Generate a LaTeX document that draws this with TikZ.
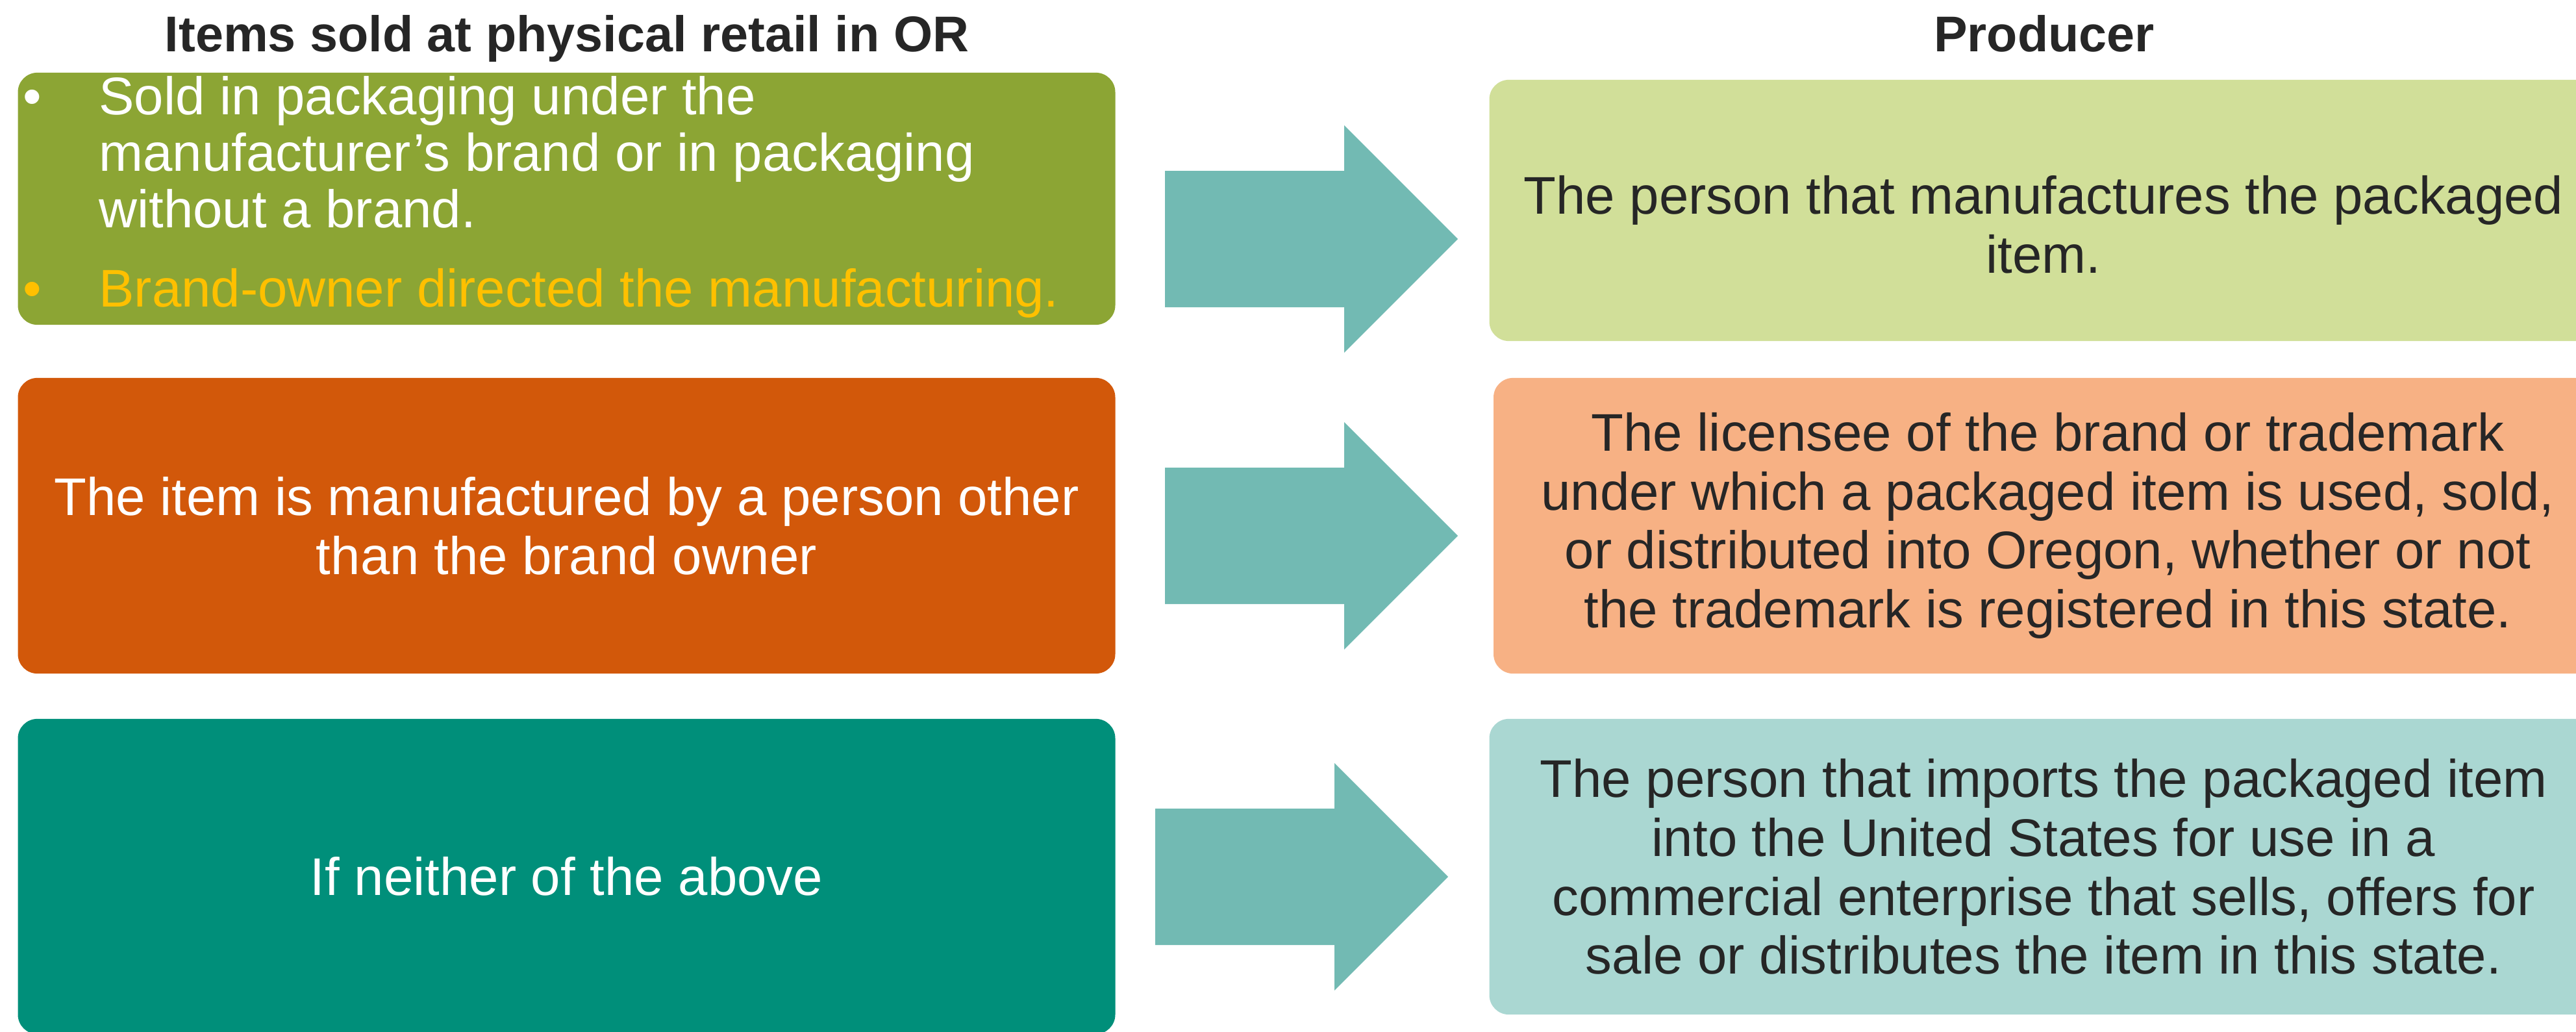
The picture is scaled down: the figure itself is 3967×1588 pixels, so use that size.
\documentclass[tikz,border=0pt]{standalone}
\usepackage{fontspec}
\setmainfont{Liberation Sans}
\usepackage{tikz}
\usetikzlibrary{positioning}

\definecolor{boxolive}{RGB}{140,165,52}
\definecolor{boxorange}{RGB}{210,88,10}
\definecolor{boxteal}{RGB}{0,143,122}
\definecolor{paleolive}{RGB}{209,223,153}
\definecolor{paleorange}{RGB}{247,177,132}
\definecolor{paleteal}{RGB}{170,215,210}
\definecolor{arrowteal}{RGB}{114,186,179}
\definecolor{bulletgold}{RGB}{255,192,0}
\definecolor{inkgray}{RGB}{38,38,38}

\newcommand{\bodyfont}{\fontsize{23.2}{25.8}\selectfont}
\newcommand{\listfont}{\fontsize{23.2}{24.6}\selectfont}
\newcommand{\headfont}{\fontsize{22}{25}\selectfont\bfseries}

\begin{document}
\begin{tikzpicture}[x=0.01cm,y=-0.01cm,
  box/.style={rectangle,rounded corners=0.3cm,inner sep=0pt,align=center,font=\bodyfont},
  lbox/.style={box,text=white,minimum width=16.89cm},
  rbox/.style={box,text=inkgray,minimum width=17.06cm},
  head/.style={font=\headfont,text=inkgray,anchor=base},
  bul/.style={font=\listfont,anchor=base},
  arrowfill/.style={fill=arrowteal}]

\clip (0,0) rectangle (3967,1588);

% headings
\node[head] (hleft) at (873,80) {Items sold at physical retail in OR};
\node[head] (hright) at (3148,80) {Producer};

% left column
\node[lbox,fill=boxolive,minimum height=3.88cm] (L1) at (872.5,306) {};
\node[lbox,fill=boxorange,minimum height=4.55cm] (L2) at (872.5,809.5) {The item is manufactured by a person other\\than the brand owner};
\node[lbox,fill=boxteal,minimum height=4.85cm] (L3) at (872.5,1349.5) {If neither of the above};

% bullet points in the first box (base = last line)
\node[bul,text=white] (d1) at (50,177) {•};
\node[bul,anchor=base west,align=left,text=white] (t1) at (140,350)
  {Sold in packaging under the\\manufacturer’s brand or in packaging\\without a brand.};
\node[bul,text=bulletgold] (d2) at (50,472) {•};
\node[bul,anchor=base west,text=bulletgold] (t2) at (140,472) {Brand-owner directed the manufacturing.};

% right column
\node[rbox,fill=paleolive,minimum height=4.02cm] (R1) at (3147,324) {};
\node[box,text=inkgray,yshift=-0.22cm] (R1t) at (R1.center)
  {The person that manufactures the packaged\\item.};
\node[rbox,fill=paleorange,minimum height=4.55cm] (R2) at (3153.5,809.5)
  {The licensee of the brand or trademark\\under which a packaged item is used, sold,\\or distributed into Oregon, whether or not\\the trademark is registered in this state.};
\node[rbox,fill=paleteal,minimum height=4.55cm] (R3) at (3147,1334.5)
  {The person that imports the packaged item\\into the United States for use in a\\commercial enterprise that sells, offers for\\sale or distributes the item in this state.};

% block arrows between the columns
\foreach \ax/\ay in {1794/368,1794/825,1779/1350}
  \fill[arrowfill] (\ax,\ay-105) -- ++(276,0) -- ++(0,-70) -- ++(175,175)
    -- ++(-175,175) -- ++(0,-70) -- ++(-276,0) -- cycle;

\end{tikzpicture}
\end{document}
